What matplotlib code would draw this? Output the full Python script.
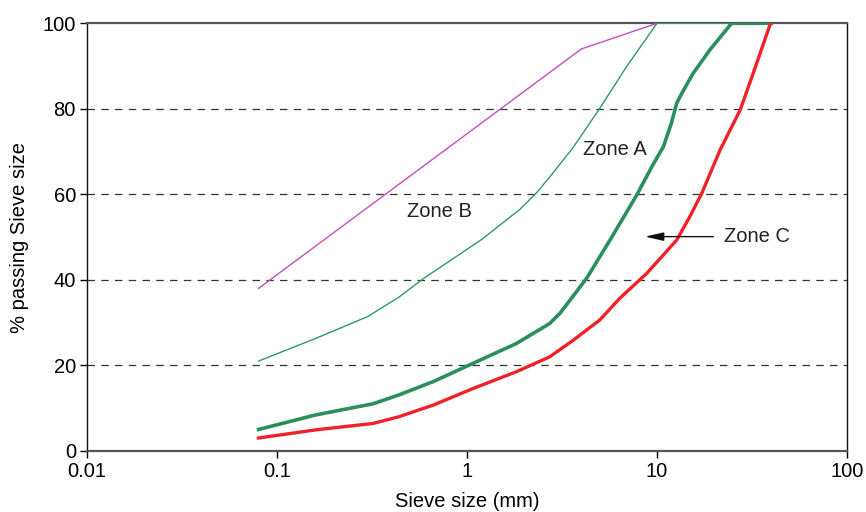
import matplotlib
matplotlib.use("Agg")
import matplotlib.pyplot as plt

plt.rcParams["font.family"] = ["Liberation Sans", "DejaVu Sans"]

# Zone B upper limit (magenta)
b_upper_x = [0.08, 4.0, 10.0, 40.0]
b_upper_y = [38, 94, 100, 100]

# Zone A/B boundary (thin green)
a_upper_x = [0.08, 0.16, 0.30, 0.44, 0.59, 0.78, 1.2, 1.9, 2.33, 2.8,
             3.6, 5.0, 6.9, 10.0, 40.0]
a_upper_y = [21, 26.3, 31.4, 36.0, 40.3, 43.9, 49.5, 56.5, 60.4, 64.7,
             70.8, 80.1, 89.8, 100, 100]

# Zone A/C boundary (thick green)
c_upper_x = [0.08, 0.16, 0.32, 0.44, 0.665, 1.08, 1.82, 2.73, 3.09, 3.55,
             4.27, 5.66, 7.82, 9.38, 10.8, 11.9, 12.7, 13.5, 15.5, 19.0,
             24.7, 40.0]
c_upper_y = [5.0, 8.4, 11.0, 13.1, 16.2, 20.5, 25.1, 29.8, 32.2, 35.7,
             40.4, 49.3, 59.8, 66.4, 71.1, 76.6, 81.3, 83.6, 88.3, 93.8,
             100, 100]

# Zone C lower limit (red)
c_lower_x = [0.08, 0.16, 0.32, 0.44, 0.665, 1.08, 1.82, 2.73, 3.63, 5.0,
             6.38, 8.83, 10.8, 12.7, 14.9, 17.2, 21.5, 27.4, 32.1, 39.6]
c_lower_y = [3.0, 4.9, 6.4, 8.0, 10.7, 14.6, 18.5, 22.0, 25.9, 30.6,
             35.7, 41.5, 45.8, 49.3, 54.8, 60.2, 70.4, 79.7, 88.3, 100]

FS = 14.5

fig = plt.figure(figsize=(8.66, 5.12), dpi=100)
ax = fig.add_axes([0.1005, 0.1195, 0.8775, 0.835])

ax.plot(b_upper_x, b_upper_y, color="#c44fb8", lw=1.0, zorder=3)
ax.plot(a_upper_x, a_upper_y, color="#2e9a60", lw=1.0, zorder=3)
ax.plot(c_upper_x, c_upper_y, color="#2a8f5c", lw=2.6, zorder=3)
ax.plot(c_lower_x, c_lower_y, color="#ee2228", lw=2.4, zorder=3)

ax.set_xscale("log")
ax.set_xlim(0.01, 100)
ax.set_ylim(0, 100)
ax.set_xticks([0.01, 0.1, 1, 10, 100])
ax.set_xticklabels(["0.01", "0.1", "1", "10", "100"])
ax.minorticks_off()
ax.set_yticks([0, 20, 40, 60, 80, 100])
ax.tick_params(labelsize=FS, length=5, width=1, direction="out", pad=3)

for yv in [20, 40, 60, 80]:
    ax.axhline(yv, color="#333333", lw=0.9, ls=(0, (6, 5)), zorder=1)

for side in ["top", "bottom"]:
    ax.spines[side].set_color("#555555")
    ax.spines[side].set_linewidth(1.6)
for side in ["left", "right"]:
    ax.spines[side].set_color("#111111")
    ax.spines[side].set_linewidth(1.0)

ax.set_xlabel("Sieve size (mm)", fontsize=FS, labelpad=8)
ax.set_ylabel("% passing Sieve size", fontsize=FS, labelpad=10)

ax.text(6.0, 70.4, "Zone A", fontsize=FS, ha="center", va="center", color="#222222")
ax.text(0.72, 56, "Zone B", fontsize=FS, ha="center", va="center", color="#222222")
ax.text(33.5, 50.1, "Zone C", fontsize=FS, ha="center", va="center", color="#222222")
ax.annotate("", xy=(8.65, 50.1), xytext=(19.8, 50.1),
            arrowprops=dict(arrowstyle="-|>,head_length=0.7,head_width=0.16",
                            color="#111111", lw=1.0,
                            mutation_scale=16, shrinkA=0, shrinkB=0))

fig.savefig("out.png", dpi=100)
